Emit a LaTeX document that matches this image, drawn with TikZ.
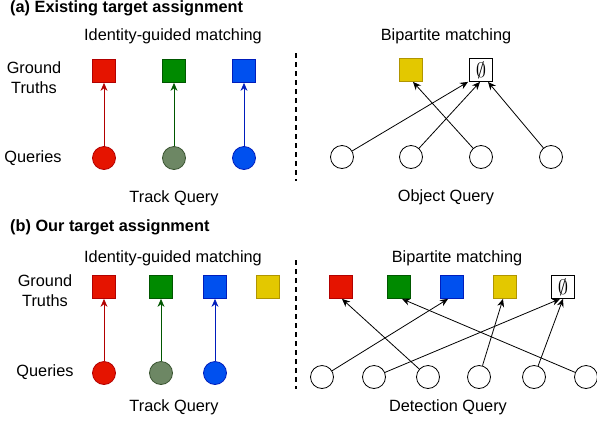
\documentclass[tikz,border=0pt]{standalone}
\usepackage{fontspec}
\setmainfont{Liberation Sans}
\usetikzlibrary{arrows.meta}
\definecolor{fred}{HTML}{E51400}\definecolor{sred}{HTML}{B20000}
\definecolor{fgreen}{HTML}{008A00}\definecolor{sgreen}{HTML}{005700}
\definecolor{fblue}{HTML}{0050EF}\definecolor{sblue}{HTML}{001DBC}
\definecolor{fgray}{HTML}{6D8764}\definecolor{sgray}{HTML}{3A5431}
\definecolor{fyel}{HTML}{E3C800}\definecolor{syel}{HTML}{B09500}
\begin{document}
\begin{tikzpicture}[x=1pt,y=-1pt,
  sq/.style={draw, minimum size=23pt, inner sep=0pt, line width=0.8pt, font=\fontsize{20}{22}\selectfont},
  qc/.style={circle, draw, minimum size=23pt, inner sep=0pt, line width=0.8pt},
  lbl/.style={font=\fontsize{16.3}{20}\selectfont, inner sep=0pt, align=center},
  ttl/.style={font=\fontsize{16.3}{19}\selectfont\bfseries, inner sep=0pt, anchor=west},
  arr/.style={-{Stealth[length=8pt,width=7pt]}, line width=0.8pt},
  sep/.style={line width=1.3pt, dash pattern=on 5pt off 4pt}]
\useasboundingbox (0,0) rectangle (597,421);
% ---------------- (a)
\node[ttl] (ta) at (10,8) {(a) Existing target assignment};
\node[lbl] (ida) at (173,36) {Identity-guided matching};
\node[lbl] (gta) at (34,78) {Ground\\Truths};
\node[lbl] (qla) at (33,158) {Queries};
\node[lbl] (tqa) at (174,198) {Track Query};
\node[sq, fill=fred, draw=sred] (gar) at (104,71) {};
\node[sq, fill=fgreen, draw=sgreen] (gag) at (174,71) {};
\node[sq, fill=fblue, draw=sblue] (gab) at (244,71) {};
\node[qc, fill=fred, draw=sred] (qar) at (104,158) {};
\node[qc, fill=fgray, draw=sgray] (qag) at (174,158) {};
\node[qc, fill=fblue, draw=sblue] (qab) at (244,158) {};
\draw[arr, draw=sred] (qar) -- (gar);
\draw[arr, draw=sgreen] (qag) -- (gag);
\draw[arr, draw=sblue] (qab) -- (gab);
\coordinate (da1) at (296,53);
\coordinate (da2) at (296,181);
\draw[sep] (da1) -- (da2);
\node[lbl] (bpa) at (446,36) {Bipartite matching};
\node[sq, fill=fyel, draw=syel] (gay) at (411,70) {};
\node[sq, fill=white] (gae) at (481,70) {$\emptyset$};
\node[qc] (oa1) at (342,157) {};
\node[qc] (oa2) at (411,157) {};
\node[qc] (oa3) at (481,157) {};
\node[qc] (oa4) at (551,157) {};
\node[lbl] (oqa) at (446,197) {Object Query};
\draw[arr] (oa1) -- ([xshift=-13pt]gae.south);
\draw[arr] (oa2) -- ([xshift=-1pt]gae.south);
\draw[arr] (oa3) -- ([xshift=2pt]gay.south);
\draw[arr] (oa4) -- ([xshift=7pt]gae.south);
% ---------------- (b)
\node[ttl] (tb) at (10,227) {(b) Our target assignment};
\node[lbl] (idb) at (173,258) {Identity-guided matching};
\node[lbl] (gtb) at (45,291) {Ground\\Truths};
\node[lbl] (qlb) at (45,372) {Queries};
\node[lbl] (tqb) at (174,407) {Track Query};
\node[sq, fill=fred, draw=sred] (gbr) at (104,287) {};
\node[sq, fill=fgreen, draw=sgreen] (gbg) at (161,287) {};
\node[sq, fill=fblue, draw=sblue] (gbb) at (215,287) {};
\node[sq, fill=fyel, draw=syel] (gby) at (268,287) {};
\node[qc, fill=fred, draw=sred] (qbr) at (104,373) {};
\node[qc, fill=fgray, draw=sgray] (qbg) at (161,373) {};
\node[qc, fill=fblue, draw=sblue] (qbb) at (215,373) {};
\draw[arr, draw=sred] (qbr) -- (gbr);
\draw[arr, draw=sgreen] (qbg) -- (gbg);
\draw[arr, draw=sblue] (qbb) -- (gbb);
\coordinate (db1) at (296,260);
\coordinate (db2) at (296,389);
\draw[sep] (db1) -- (db2);
\node[lbl] (bpb) at (457,258) {Bipartite matching};
\node[sq, fill=fred, draw=sred] (hbr) at (341,287) {};
\node[sq, fill=fgreen, draw=sgreen] (hbg) at (399,287) {};
\node[sq, fill=fblue, draw=sblue] (hbb) at (452,287) {};
\node[sq, fill=fyel, draw=syel] (hby) at (505,287) {};
\node[sq, fill=white] (hbe) at (563,287) {$\emptyset$};
\node[qc] (ob1) at (322,377) {};
\node[qc] (ob2) at (374,377) {};
\node[qc] (ob3) at (428,377) {};
\node[qc] (ob4) at (479,377) {};
\node[qc] (ob5) at (534,377) {};
\node[qc] (ob6) at (586,377) {};
\node[lbl] (dqb) at (448,407) {Detection Query};
\draw[arr] (ob1) -- ([xshift=-4pt]hbb.south);
\draw[arr] (ob2) -- ([xshift=-3pt]hbe.south);
\draw[arr] (ob3) -- ([xshift=1pt]hbr.south);
\draw[arr] (ob4) -- ([xshift=-2pt]hby.south);
\draw[arr] (ob5) -- ([xshift=0pt]hbe.south);
\draw[arr] (ob6) -- ([xshift=3pt]hbg.south);
\end{tikzpicture}
\end{document}
